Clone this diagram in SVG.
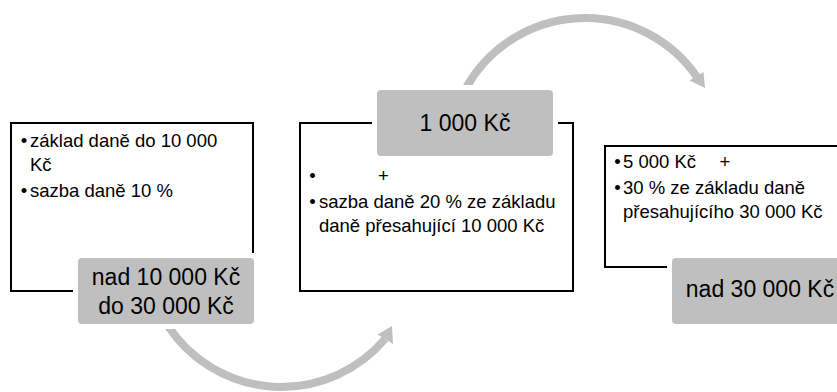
<svg xmlns="http://www.w3.org/2000/svg" width="837" height="392" viewBox="0 0 837 392">
<style>
.box{fill:#fff;stroke:#000;stroke-width:2}
.gap{fill:#fff}
.lbl{fill:#bfbfbf}
.t{font-family:"Liberation Sans",Arial,sans-serif;font-size:18.5px;fill:#000}
.b{font-family:"Liberation Sans",Arial,sans-serif;font-size:18.5px;fill:#000;text-anchor:middle}
.lt{font-family:"Liberation Sans",Arial,sans-serif;font-size:23px;fill:#000;text-anchor:middle}
.arc{fill:none;stroke:#bfbfbf;stroke-width:8}
.head{fill:#bfbfbf}
</style>
<rect width="837" height="392" fill="#fff"/>
<g id="box1">
<rect class="box" x="11" y="123" width="242" height="168"/>
<text class="b" x="24" y="147">•</text>
<text class="t" x="30" y="147">základ daně do 10 000</text>
<text class="t" x="30" y="170.5">Kč</text>
<text class="b" x="24" y="197">•</text>
<text class="t" x="30" y="197">sazba daně 10 %</text>
</g>
<g id="box2">
<rect class="box" x="300" y="123" width="273" height="168"/>
<text class="b" x="312.5" y="181.5">•</text>
<text class="b" x="383.5" y="181.5">+</text>
<text class="b" x="312.5" y="208">•</text>
<text class="t" x="319" y="208">sazba daně 20 % ze základu</text>
<text class="t" x="319" y="232">daně přesahující 10 000 Kč</text>
</g>
<g id="box3">
<rect class="box" x="605" y="146" width="260" height="121"/>
<text class="b" x="617.5" y="168">•</text>
<text class="t" x="623" y="168">5 000 Kč</text>
<text class="b" x="725" y="168">+</text>
<text class="b" x="617.5" y="194">•</text>
<text class="t" x="623" y="194">30 % ze základu daně</text>
<text class="t" x="623" y="218">přesahujícího 30 000 Kč</text>
</g>
<g id="connectors">
<path class="arc" d="M168 326 A136 136 0 0 0 385 339"/>
<polygon class="head" points="392,326 377.5,334.5 393,344"/>
<path class="arc" d="M466 88 A136 136 0 0 1 697 77"/>
<polygon class="head" points="705,88 703.5,72 689.5,80.5"/>
</g>
<g id="label1">
<rect class="gap" x="73" y="253" width="186" height="76" rx="6"/>
<rect class="lbl" x="78" y="258" width="176" height="66" rx="4"/>
<text class="lt" x="166" y="285">nad 10 000 Kč</text>
<text class="lt" x="166" y="314">do 30 000 Kč</text>
</g>
<g id="label2">
<rect class="gap" x="372" y="85" width="186" height="76" rx="6"/>
<rect class="lbl" x="377" y="90" width="176" height="66" rx="4"/>
<text class="lt" x="465" y="131">1 000 Kč</text>
</g>
<g id="label3">
<rect class="gap" x="667" y="253" width="186" height="76" rx="6"/>
<rect class="lbl" x="672" y="258" width="176" height="66" rx="4"/>
<text class="lt" x="760" y="297">nad 30 000 Kč</text>
</g>
</svg>
